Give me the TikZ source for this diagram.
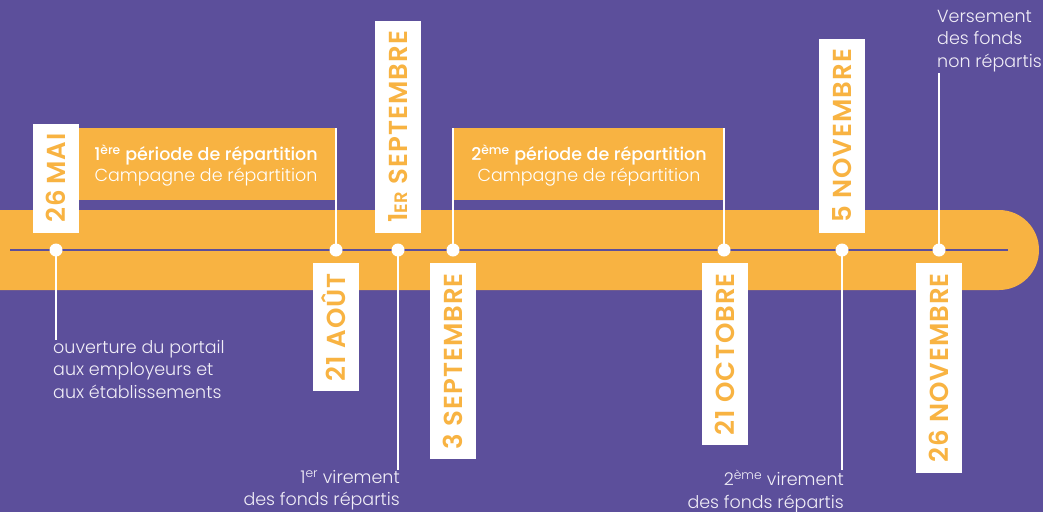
\documentclass[tikz,border=0pt]{standalone}
\usepackage{fontspec}
\setmainfont{Poppins}
\newfontfamily\plight{Poppins Light}
\newfontfamily\pmed{Poppins Medium}
\newfontfamily\pbold{Poppins SemiBold}[LetterSpace=4]
\definecolor{bgpurple}{HTML}{5C4F9B}
\definecolor{bandorange}{HTML}{F8B342}
\definecolor{softwhite}{HTML}{F1EEF7}
\tikzset{
  datebox/.style={fill=white, rotate=90, minimum height=46pt, inner xsep=10pt, inner ysep=0pt,
    text=bandorange, font=\pbold\fontsize{26}{26}\selectfont, text height=18pt, text depth=0pt},
  dot/.style={circle, fill=white, minimum size=13pt, inner sep=0pt},
  stem/.style={white, line width=1.6pt},
  bodytxt/.style={text=softwhite, font=\plight\fontsize{17.5}{22.5}\selectfont, inner sep=0pt},
  callout/.style={fill=bandorange, draw=none}
}
\begin{document}
\begin{tikzpicture}[x=1pt,y=-1pt]
\fill[bgpurple] (0,0) rectangle (1043,512);
\useasboundingbox (0,0) rectangle (1043,512);
% band
\fill[bandorange] (0,210) -- (999,210) arc[start angle=-90, end angle=90, radius=40] -- (0,290) -- cycle;
% callout boxes
\fill[callout] (60,128) rectangle (336,200);
\fill[callout] (453,128) rectangle (724,200);
% timeline
\coordinate (lstart) at (10,250);
\coordinate (lend) at (1008,250);
\draw[bgpurple, line width=2.6pt] (lstart) -- (lend);
% dots
\node[dot] (d1) at (56,250) {};
\node[dot] (d2) at (336,250) {};
\node[dot] (d3) at (398,250) {};
\node[dot] (d4) at (453,250) {};
\node[dot] (d5) at (724,250) {};
\node[dot] (d6) at (842,250) {};
\node[dot] (d7) at (939,250) {};
% stems
\coordinate (t2) at (336,128);
\coordinate (t4) at (453,128);
\coordinate (t5) at (724,128);
\coordinate (b1) at (56,340);
\coordinate (b3) at (398,470);
\coordinate (b6) at (842,470);
\coordinate (t7) at (939,73);
\draw[stem] (d2.center) -- (t2);
\draw[stem] (d4.center) -- (t4);
\draw[stem] (d5.center) -- (t5);
\draw[stem] (d1.center) -- (b1);
\draw[stem] (d3.center) -- (b3);
\draw[stem] (d6.center) -- (b6);
\draw[stem] (d7.center) -- (t7);
% date boxes
\node[datebox, anchor=west] (m1) at (56,233) {26\hspace{-2pt} MAI};
\node[datebox, anchor=west] (m3) at (398,233) {1{\fontsize{18}{18}\selectfont ER} SEPTEMBRE};
\node[datebox, anchor=west] (m6) at (842,233) {5 NOVEMBRE};
\node[datebox, anchor=east] (m2) at (336,263) {21 AOÛT};
\node[datebox, anchor=east] (m4) at (453,263) {3 SEPTEMBRE};
\node[datebox, anchor=east] (m5) at (725,263) {21 OCTOBRE};
\node[datebox, anchor=east] (m7) at (939,263) {26 NOVEMBRE};
% callout texts
\node[text=white, font=\pmed\fontsize{17.5}{22}\selectfont, inner sep=0pt] (c1a) at (206,155) {1\textsuperscript{ère} période de répartition};
\node[text=white, font=\plight\fontsize{17.5}{22}\selectfont, inner sep=0pt] (c1b) at (206,177) {Campagne de répartition};
\node[text=white, font=\pmed\fontsize{17.5}{22}\selectfont, inner sep=0pt] (c2a) at (589,155) {2\textsuperscript{ème} période de répartition};
\node[text=white, font=\plight\fontsize{17.5}{22}\selectfont, inner sep=0pt] (c2b) at (589,177) {Campagne de répartition};
% body texts
\node[bodytxt, anchor=north west, align=left] (o1) at (53,340) {ouverture du portail\\aux employeurs et\\aux établissements};
\node[bodytxt, anchor=north east, align=right] (o3) at (400,470) {1\textsuperscript{er} virement\\des fonds répartis};
\node[bodytxt, anchor=north east, align=right] (o6) at (844,470) {2\textsuperscript{ème} virement\\des fonds répartis};
\node[bodytxt, anchor=south west, align=left] (o7) at (937,72) {Versement\\des fonds\\non répartis};
\end{tikzpicture}
\end{document}
